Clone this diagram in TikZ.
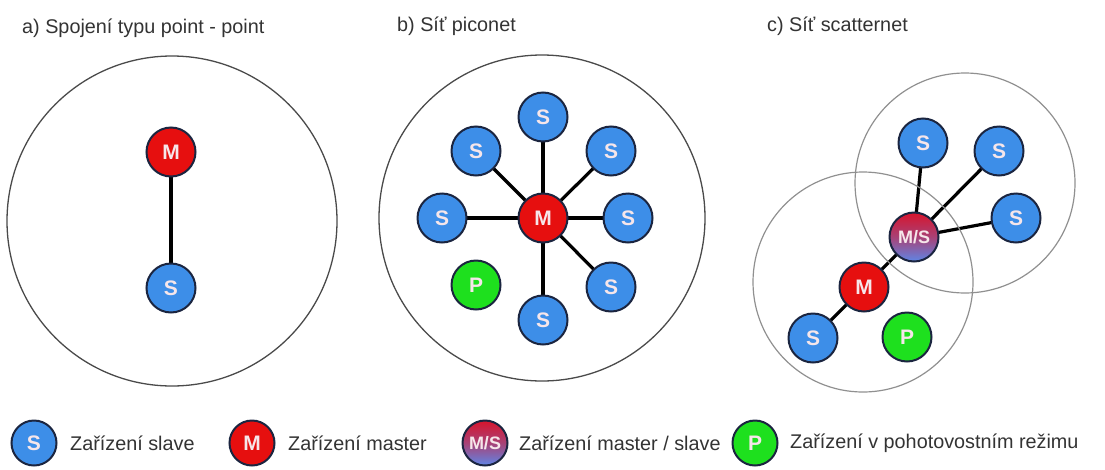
\documentclass[tikz,border=0pt]{standalone}
\usepackage{fontspec}
\setmainfont{Liberation Sans}
\definecolor{slaveblue}{HTML}{3D8EE8}
\definecolor{masterred}{HTML}{E60F0F}
\definecolor{parkgreen}{HTML}{1EE01E}
\definecolor{rimdark}{HTML}{1B2540}
\definecolor{ringgray}{HTML}{4A4A4A}
\definecolor{ringlight}{HTML}{909090}
\definecolor{msred}{HTML}{D8142C}
\definecolor{msblue}{HTML}{5F86E6}
\definecolor{labelgray}{HTML}{333333}
\definecolor{glyph}{HTML}{F6E6EA}
\pgfdeclarelayer{links}
\pgfsetlayers{links,main}
\tikzset{
  dev/.style={circle, minimum size=49pt, inner sep=0pt, draw=rimdark, line width=2pt,
    text=glyph, font=\fontsize{21}{21}\selectfont\bfseries},
  slave/.style={dev, fill=slaveblue},
  master/.style={dev, fill=masterred},
  park/.style={dev, fill=parkgreen},
  mslave/.style={dev, top color=msred, bottom color=msblue, middle color=msred!60!msblue,
    font=\fontsize{18}{18}\selectfont\bfseries},
  small/.style={minimum size=45pt},
  ring/.style={circle, draw=ringgray, line width=1.3pt, inner sep=0pt},
  lightring/.style={circle, draw=ringlight, line width=1.2pt, inner sep=0pt},
  link/.style={line width=3.2pt, black},
  caption/.style={anchor=west, inner sep=0pt, text=labelgray, font=\fontsize{19.8}{23}\selectfont},
}
\begin{document}
\begin{tikzpicture}[x=1pt, y=-1pt]
\useasboundingbox (0,0) rectangle (1105,469);

% panel titles
\node[caption] (ta) at (22,28) {a) Spojení typu point - point};
\node[caption] (tb) at (397,26) {b) Síť piconet};
\node[caption] (tc) at (767,26) {c) Síť scatternet};

% coverage circles
\node[ring, minimum size=330pt] (ra) at (172,221) {};
\node[ring, minimum size=326pt] (rb) at (542,218) {};
\node[lightring, minimum size=220pt] (rc1) at (965,183) {};
\node[lightring, minimum size=220pt] (rc2) at (863,282) {};

% a) point - point
\node[master] (am) at (171,152) {M};
\node[slave] (as) at (171,288) {S};

% b) piconet: master with seven slaves and one parked device
\node[master] (bm) at (543,218) {M};
\node[slave] (bs1) at (543,117) {S};
\node[slave] (bs2) at (476,151) {S};
\node[slave] (bs3) at (611,151) {S};
\node[slave] (bs4) at (442,218) {S};
\node[slave] (bs5) at (628,218) {S};
\node[slave] (bs6) at (611,287) {S};
\node[slave] (bs7) at (543,320) {S};
\node[park] (bp) at (476,285) {P};

% c) scatternet: two piconets joined by a master/slave bridge
\node[mslave] (cms) at (914,237) {M/S};
\node[master] (cm) at (864,287) {M};
\node[slave] (cs1) at (923,143) {S};
\node[slave] (cs2) at (999,151) {S};
\node[slave] (cs3) at (1016,218) {S};
\node[slave] (cs4) at (813,338) {S};
\node[park] (cp) at (907,337) {P};

% connections, kept behind the devices
\begin{pgfonlayer}{links}
  \draw[link] (am.center) -- (as.center);
  \foreach \s in {bs1,bs2,bs3,bs4,bs5,bs6,bs7} \draw[link] (bm.center) -- (\s.center);
  \foreach \s in {cs1,cs2,cs3} \draw[link] (cms.center) -- (\s.center);
  \draw[link] (cm.center) -- (cms.center);
  \draw[link] (cm.center) -- (cs4.center);
\end{pgfonlayer}

% legend
\node[slave, small] (ls) at (34,443) {S};
\node[caption] (lst) at (70,443) {Zařízení slave};
\node[master, small] (lm) at (252,443) {M};
\node[caption] (lmt) at (288,443) {Zařízení master};
\node[mslave, small] (lms) at (485,443) {M/S};
\node[caption] (lmst) at (519,443) {Zařízení master / slave};
\node[park, small] (lp) at (755,443) {P};
\node[caption] (lpt) at (790,443) {Zařízení v pohotovostním režimu};
\end{tikzpicture}
\end{document}
